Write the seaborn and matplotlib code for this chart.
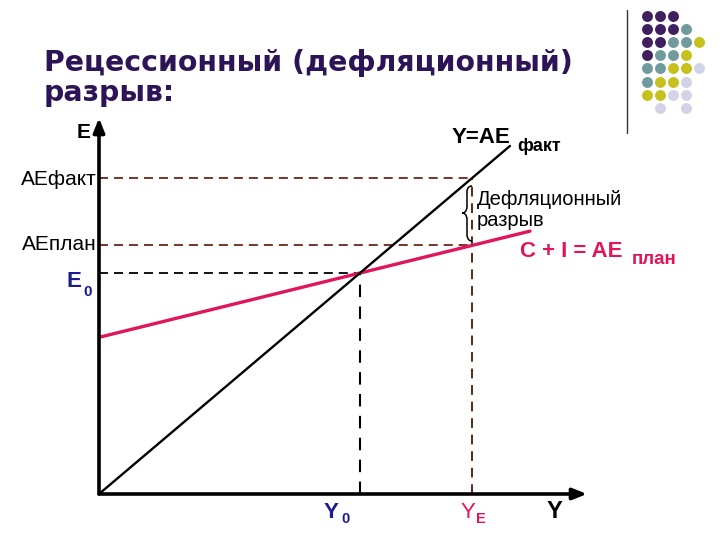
import matplotlib
matplotlib.use('Agg')
import matplotlib.pyplot as plt
import seaborn as sns
import pandas as pd
from matplotlib.path import Path
from matplotlib.patches import PathPatch

sns.set_theme(style='white')
plt.rcParams['font.family'] = ['Liberation Sans', 'DejaVu Sans']

# ---------------- data (arbitrary units, Y=AE is the 45-degree line) ----------------
fact_Y = [0.0, 41.1]          # Y = AE_fact line
fact_AE = [0.0, 41.1]
plan_Y = [0.0, 43.1]          # C + I = AE_plan line
plan_AE = [18.5, 31.04]
Y0 = 26.1                     # equilibrium income
E0 = 26.1                     # equilibrium expenditure
YE = 37.3                     # full-employment income
AE_fact = 37.3
AE_plan = 29.35
x_max = 48.8
y_max = 44.4

dot_rows = ['PPP..', 'PPPT.', 'PPTTY', 'PTTY.', 'TTYYL', 'TYYL.', 'YYLL.', '.L.L.']
dot_colors = {'P': '#3f1f5e', 'T': '#6f9b9c', 'Y': '#c6c11c', 'L': '#d3d3e8'}

CRIMSON = '#e0165c'
NAVY = '#1c1c8e'
BROWN = '#6e2418'

fig = plt.figure(figsize=(7.2, 5.4), dpi=100)
fig.patch.set_facecolor('white')

# ---------------- chart axes ----------------
ax = fig.add_axes([99 / 720, 46 / 540, 488 / 720, 376 / 540])
ax.set_xlim(0, x_max)
ax.set_ylim(0, y_max)
ax.axis('off')

# dashed guide lines
dash = (0, (5, 3.3))
ax.plot([0, YE], [AE_fact, AE_fact], color=BROWN, lw=1.3, ls=dash)
ax.plot([0, YE], [AE_plan, AE_plan], color=BROWN, lw=1.3, ls=dash)
ax.plot([0, Y0], [E0, E0], color='black', lw=1.3, ls=dash)
ax.plot([Y0, Y0], [0, E0], color='black', lw=1.5, ls=(0, (6, 4.5)))
ax.plot([YE, YE], [0, AE_fact], color='#5a2a12', lw=1.4, ls=(0, (5, 3.5)))

# main lines
sns.lineplot(x=plan_Y, y=plan_AE, ax=ax, color=CRIMSON, lw=2.4, sort=False)
sns.lineplot(x=fact_Y, y=fact_AE, ax=ax, color='black', lw=1.7, sort=False)

# axes arrows
arrow = dict(arrowstyle='-|>,head_length=0.7,head_width=0.28', lw=2.6, color='black',
             shrinkA=0, shrinkB=0)
ax.annotate('', xy=(0, y_max), xytext=(0, 0), arrowprops=arrow, annotation_clip=False)
ax.annotate('', xy=(x_max, 0), xytext=(0, 0), arrowprops=arrow, annotation_clip=False)

# ---------------- overlay in pixel coordinates ----------------
ov = fig.add_axes([0, 0, 1, 1], zorder=5)
ov.set_xlim(0, 720)
ov.set_ylim(540, 0)
ov.axis('off')
ov.patch.set_alpha(0)

# title (one text block, two lines; baseline refers to the last line)
ov.text(44, 101, 'Рецессионный (дефляционный)\nразрыв:', family='DejaVu Sans',
        weight='bold', fontsize=20.4, color='#2d1457', va='baseline', ha='left',
        linespacing=1.09)

# decoration: vertical line + dot grid
ov.plot([627, 627], [10, 133], color='#333333', lw=1)
for r, row in enumerate(dot_rows):
    for c, ch in enumerate(row):
        if ch in dot_colors:
            ov.scatter(647 + 13.1 * c, 16 + 13.1 * r, s=62, color=dot_colors[ch], lw=0)

# axis labels
lk = dict(va='baseline', color='black')
ov.text(90, 138, 'E', ha='right', fontsize=15, weight='bold', **lk)
ov.text(97, 185, 'AEфакт', ha='right', fontsize=15, **lk)
ov.text(97, 250, 'AEплан', ha='right', fontsize=15, **lk)
ov.text(67, 287, 'E', ha='left', fontsize=16, weight='bold', color=NAVY, va='baseline')
ov.text(83, 296, '0', ha='left', fontsize=11, weight='bold', color=NAVY, va='baseline')

ov.text(452, 143, 'Y=AE', ha='left', fontsize=16, weight='bold', **lk)
ov.text(517, 151, 'факт', ha='left', fontsize=13, weight='bold', **lk)

ov.text(477, 205, 'Дефляционный', ha='left', fontsize=14.5, **lk)
ov.text(477, 226, 'разрыв', ha='left', fontsize=14.5, **lk)

ov.text(520, 257, 'C + I = AE', ha='left', fontsize=16, weight='bold', color=CRIMSON, va='baseline')
ov.text(632, 264, 'план', ha='left', fontsize=13.5, weight='bold', color=CRIMSON, va='baseline')

ov.text(324, 518, 'Y', ha='left', fontsize=16, weight='bold', color=NAVY, va='baseline')
ov.text(341, 523, '0', ha='left', fontsize=10.5, weight='bold', color=NAVY, va='baseline')
ov.text(461, 518, 'Y', ha='left', fontsize=16, color=CRIMSON, va='baseline')
ov.text(476, 523, 'E', ha='left', fontsize=10.5, weight='bold', color=CRIMSON, va='baseline')
ov.text(547, 518, 'Y', ha='left', fontsize=17, weight='bold', **lk)

# curly brace for the gap
verts = [(472, 186), (467, 186), (467, 191), (467, 191),
         (467, 207), (467, 207), (467, 213), (462, 213),
         (467, 213), (467, 219), (467, 219),
         (467, 235), (467, 235), (467, 241), (472, 241)]
codes = [Path.MOVETO, Path.CURVE4, Path.CURVE4, Path.CURVE4,
         Path.LINETO, Path.CURVE4, Path.CURVE4, Path.CURVE4,
         Path.CURVE4, Path.CURVE4, Path.CURVE4,
         Path.LINETO, Path.CURVE4, Path.CURVE4, Path.CURVE4]
ov.add_patch(PathPatch(Path(verts, codes), facecolor='none', edgecolor='black', lw=1.1))

fig.savefig('out.png', dpi=100, facecolor='white')
